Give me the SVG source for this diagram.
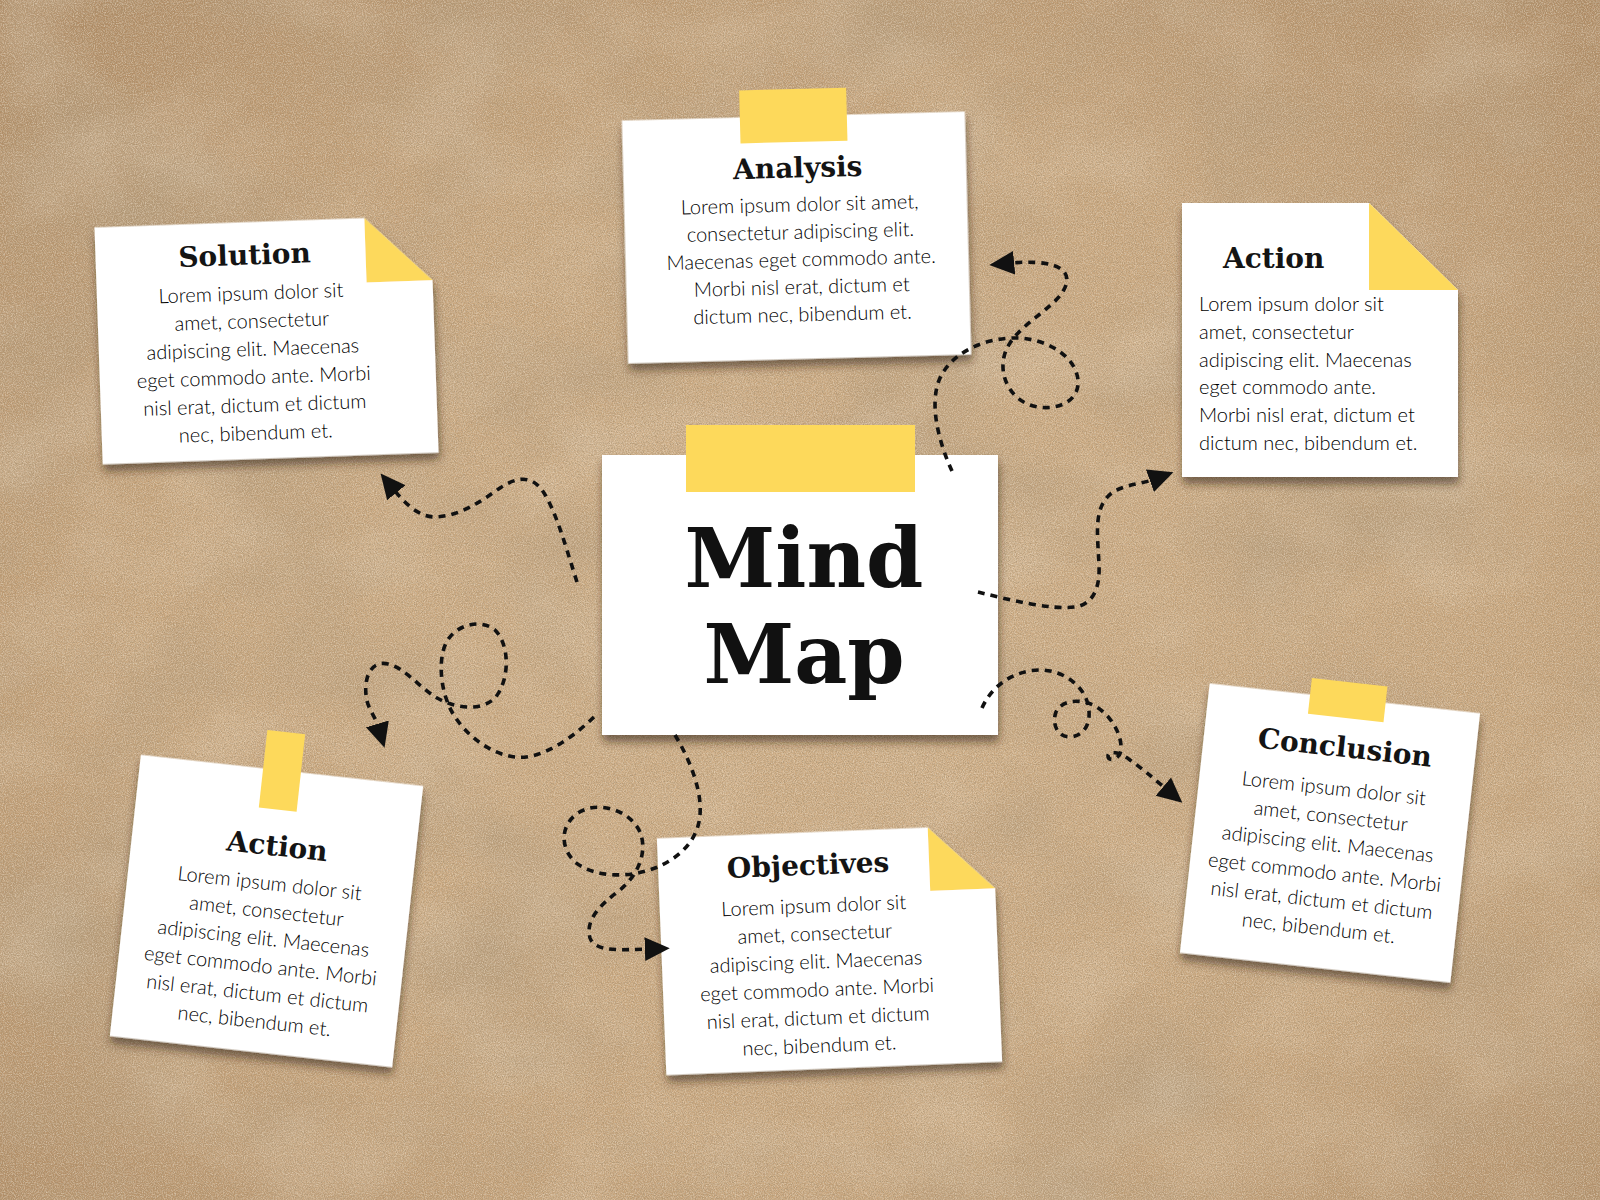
<svg xmlns="http://www.w3.org/2000/svg" width="1600" height="1200" viewBox="0 0 1600 1200">
<defs>
  <radialGradient id="bg" cx="52%" cy="55%" r="78%">
    <stop offset="0" stop-color="#cfae86"/>
    <stop offset="0.55" stop-color="#c8a57c"/>
    <stop offset="1" stop-color="#a8835c"/>
  </radialGradient>
  <filter id="grain" x="0" y="0" width="1600" height="1200" filterUnits="userSpaceOnUse">
    <feTurbulence type="fractalNoise" baseFrequency="0.85" numOctaves="2" seed="7" result="n"/>
    <feColorMatrix in="n" type="matrix" values="0 0 0 0 0.40  0 0 0 0 0.29  0 0 0 0 0.17  2.0 0 0 0 -0.78"/>
  </filter>
  <filter id="grainLight" x="0" y="0" width="1600" height="1200" filterUnits="userSpaceOnUse">
    <feTurbulence type="fractalNoise" baseFrequency="0.9" numOctaves="2" seed="19" result="n"/>
    <feColorMatrix in="n" type="matrix" values="0 0 0 0 0.94  0 0 0 0 0.84  0 0 0 0 0.70  1.8 0 0 0 -0.7"/>
  </filter>
  <filter id="mottle" x="0" y="0" width="1600" height="1200" filterUnits="userSpaceOnUse">
    <feTurbulence type="fractalNoise" baseFrequency="0.005 0.007" numOctaves="4" seed="3" result="n"/>
    <feColorMatrix in="n" type="matrix" values="0 0 0 0 0.45  0 0 0 0 0.32  0 0 0 0 0.19  1.8 0 0 0 -0.8"/>
  </filter>
  <filter id="mottleLight" x="0" y="0" width="1600" height="1200" filterUnits="userSpaceOnUse">
    <feTurbulence type="fractalNoise" baseFrequency="0.008 0.01" numOctaves="3" seed="11" result="n"/>
    <feColorMatrix in="n" type="matrix" values="0 0 0 0 0.88  0 0 0 0 0.76  0 0 0 0 0.60  2.0 0 0 0 -0.9"/>
  </filter>
  <filter id="shadow" x="-20%" y="-20%" width="140%" height="140%">
    <feDropShadow dx="1" dy="7" stdDeviation="4" flood-color="#2e2010" flood-opacity="0.55"/>
  </filter>
  <marker id="arrow" markerUnits="userSpaceOnUse" markerWidth="26" markerHeight="26" viewBox="0 0 24 24" refX="2" refY="12" orient="auto">
    <path d="M0,1 L23,12 L0,23 z" fill="#111"/>
  </marker>
  <style>
    .paper { fill: #ffffff; }
    .tape { fill: #fdd95b; }
    .title { font-family: "DejaVu Serif", "Liberation Serif", serif; font-weight: bold; fill: #141414; font-size: 28px; text-anchor: middle; }
    .body { font-family: Lato, "Open Sans", sans-serif; font-weight: 300; font-size: 20px; fill: #000; text-anchor: middle; }
    .left { text-anchor: start; }
    .big { font-family: "DejaVu Serif", "Liberation Serif", serif; font-weight: bold; fill: #111; font-size: 82px; text-anchor: middle; }
    .conn { fill: none; stroke: #111; stroke-width: 3.6; stroke-dasharray: 7 6; marker-end: url(#arrow); }
  </style>
</defs>

<rect width="1600" height="1200" fill="url(#bg)"/>
<rect width="1600" height="1200" filter="url(#mottle)"/>
<rect width="1600" height="1200" filter="url(#mottleLight)" opacity="0.3"/>
<rect width="1600" height="1200" filter="url(#grain)"/>
<rect width="1600" height="1200" filter="url(#grainLight)" opacity="0.6"/>

<g id="node-analysis" transform="translate(796.5,237.5) rotate(-1.5)">
  <rect class="paper" x="-171.5" y="-121.5" width="343" height="243" filter="url(#shadow)"/>
  <rect class="tape" x="-53.5" y="-148.5" width="107" height="53"/>
  <text class="title" x="3" y="-60">Analysis</text>
  <text class="body" x="4" y="-26">Lorem ipsum dolor sit amet,</text>
  <text class="body" x="4" y="1.5">consectetur adipiscing elit.</text>
  <text class="body" x="4" y="29">Maecenas eget commodo ante.</text>
  <text class="body" x="4" y="56.5">Morbi nisl erat, dictum et</text>
  <text class="body" x="4" y="84">dictum nec, bibendum et.</text>
</g>

<g id="node-solution" transform="translate(266.5,340) rotate(-2)">
  <g filter="url(#shadow)">
    <polygon class="paper" points="-168,-118.5 102,-118.5 168,-54 168,118.5 -168,118.5"/>
    <polygon class="tape" points="102,-118.5 102,-54 168,-54"/>
  </g>
  <text class="title" x="-19" y="-76">Solution</text>
  <text class="body" x="-14" y="-40.5">Lorem ipsum dolor sit</text>
  <text class="body" x="-14" y="-12.5">amet, consectetur</text>
  <text class="body" x="-14" y="15.5">adipiscing elit. Maecenas</text>
  <text class="body" x="-14" y="43.5">eget commodo ante. Morbi</text>
  <text class="body" x="-14" y="71.5">nisl erat, dictum et dictum</text>
  <text class="body" x="-14" y="99.5">nec, bibendum et.</text>
</g>

<g id="node-action-right">
  <g filter="url(#shadow)">
    <polygon class="paper" points="1182,203 1369,203 1458,290 1458,477 1182,477"/>
    <polygon class="tape" points="1369,203 1369,290 1458,290"/>
  </g>
  <text class="title left" x="1223" y="268">Action</text>
  <text class="body left" x="1199" y="311">Lorem ipsum dolor sit</text>
  <text class="body left" x="1199" y="338.8">amet, consectetur</text>
  <text class="body left" x="1199" y="366.6">adipiscing elit. Maecenas</text>
  <text class="body left" x="1199" y="394.4">eget commodo ante.</text>
  <text class="body left" x="1199" y="422.2">Morbi nisl erat, dictum et</text>
  <text class="body left" x="1199" y="450">dictum nec, bibendum et.</text>
</g>

<g id="node-mindmap">
  <rect class="paper" x="602" y="455" width="396" height="280" filter="url(#shadow)"/>
  <rect class="tape" x="686" y="425" width="229" height="67"/>
  <text class="big" x="804" y="587">Mind</text>
  <text class="big" x="804" y="683">Map</text>
</g>

<g id="node-action-left" transform="translate(266.5,911) rotate(6.3)">
  <rect class="paper" x="-142" y="-141.5" width="284" height="283" filter="url(#shadow)"/>
  <rect class="tape" x="-19" y="-180" width="38" height="78"/>
  <text class="title" x="3.6" y="-56">Action</text>
  <text class="body" x="0" y="-21">Lorem ipsum dolor sit</text>
  <text class="body" x="0" y="6.7">amet, consectetur</text>
  <text class="body" x="0" y="34.4">adipiscing elit. Maecenas</text>
  <text class="body" x="0" y="62">eget commodo ante. Morbi</text>
  <text class="body" x="0" y="89.8">nisl erat, dictum et dictum</text>
  <text class="body" x="0" y="117.5">nec, bibendum et.</text>
</g>

<g id="node-objectives" transform="translate(829.5,950) rotate(-2.3)">
  <g filter="url(#shadow)">
    <polygon class="paper" points="-168,-118.5 103,-118.5 168,-55 168,118.5 -168,118.5"/>
    <polygon class="tape" points="103,-118.5 103,-55 168,-55"/>
  </g>
  <text class="title" x="-18" y="-76">Objectives</text>
  <text class="body" x="-14" y="-38">Lorem ipsum dolor sit</text>
  <text class="body" x="-14" y="-10">amet, consectetur</text>
  <text class="body" x="-14" y="18">adipiscing elit. Maecenas</text>
  <text class="body" x="-14" y="46">eget commodo ante. Morbi</text>
  <text class="body" x="-14" y="74">nisl erat, dictum et dictum</text>
  <text class="body" x="-14" y="102">nec, bibendum et.</text>
</g>

<g id="node-conclusion" transform="translate(1330,833) rotate(6.3)">
  <rect class="paper" x="-136" y="-135.5" width="272" height="271" filter="url(#shadow)"/>
  <rect class="tape" x="-35" y="-152" width="76" height="36"/>
  <text class="title" x="5.5" y="-77">Conclusion</text>
  <text class="body" x="-1" y="-38">Lorem ipsum dolor sit</text>
  <text class="body" x="-1" y="-10">amet, consectetur</text>
  <text class="body" x="-1" y="18">adipiscing elit. Maecenas</text>
  <text class="body" x="-1" y="46.5">eget commodo ante. Morbi</text>
  <text class="body" x="-1" y="74.5">nisl erat, dictum et dictum</text>
  <text class="body" x="-1" y="102.5">nec, bibendum et.</text>
</g>

<g id="connectors">
  <path class="conn" d="M577,582 C566,548 556,510 542,490 C530,474 515,478 500,488 C480,502 460,516 435,517 C418,517 404,502 395,491"/>
  <path class="conn" d="M594,717 C570,740 540,760 515,757 C490,754 465,735 452,712 C440,690 438,660 446,643 C455,625 480,618 495,630 C510,645 510,680 495,698 C480,712 455,708 437,698 C420,688 405,668 388,664 C372,660 364,676 366,695 C367,708 375,716 378,726"/>
  <path class="conn" d="M952,471 C940,445 928,405 940,378 C952,352 985,338 1015,338 C1050,338 1080,360 1078,385 C1076,405 1050,412 1030,405 C1005,396 995,365 1010,343 C1025,320 1060,305 1066,285 C1072,265 1045,260 1012,263"/>
  <path class="conn" d="M978,592 C1010,600 1050,610 1075,607 C1095,604 1100,585 1099,565 C1098,540 1094,515 1105,500 C1115,485 1138,485 1152,480"/>
  <path class="conn" d="M982,708 C992,685 1015,670 1040,670 C1065,670 1085,688 1088,705 C1092,722 1085,736 1070,737 C1056,737 1052,722 1056,712 C1062,700 1080,698 1095,706 C1112,716 1122,735 1121,750 C1120,760 1108,762 1108,756 C1108,750 1120,752 1130,760 C1140,767 1152,777 1165,788"/>
  <path class="conn" d="M675,735 C690,760 702,790 700,815 C698,840 680,858 655,868 C630,878 595,878 575,862 C560,848 560,825 578,813 C598,800 630,810 640,832 C648,852 638,875 620,890 C600,905 585,920 590,938 C595,952 620,950 647,949"/>
</g>
</svg>
